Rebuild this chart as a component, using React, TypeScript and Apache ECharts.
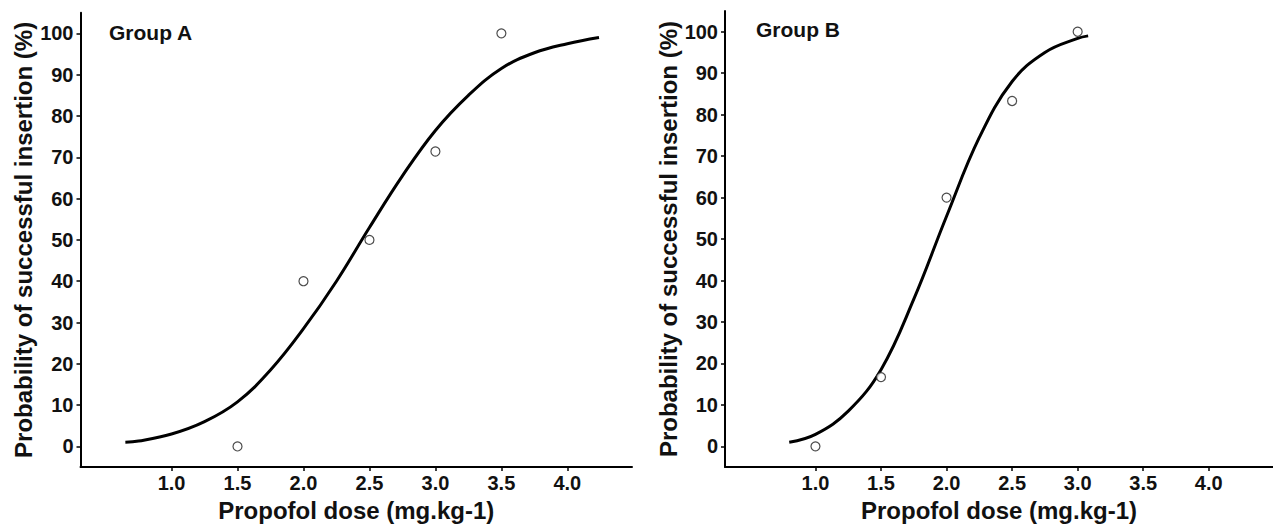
import React, { useEffect, useRef } from "react";
import * as echarts from "echarts";

const xTicks = [1.0, 1.5, 2.0, 2.5, 3.0, 3.5, 4.0];
const yTicks = [0, 10, 20, 30, 40, 50, 60, 70, 80, 90, 100];

const groupADose = [1.5, 2.0, 2.5, 3.0, 3.5];
const groupAObserved = [0, 40, 50, 71.4, 100];
const groupBDose = [1.0, 1.5, 2.0, 2.5, 3.0];
const groupBObserved = [0, 16.7, 60, 83.3, 100];

const groupACurveDose = [0.65, 0.75, 1.0, 1.25, 1.5, 1.75, 2.0, 2.25, 2.5, 2.75, 3.0, 3.25, 3.5, 3.75, 4.0, 4.24];
const groupACurveProb = [1.0, 1.3, 3.0, 6.0, 10.8, 18.5, 28.5, 40.0, 53.0, 65.5, 76.5, 85.0, 91.5, 95.3, 97.5, 99.0];
const groupBCurveDose = [0.8, 1.0, 1.25, 1.5, 1.75, 2.0, 2.25, 2.5, 2.75, 3.0, 3.08];
const groupBCurveProb = [1.0, 2.9, 8.5, 18.5, 35.5, 55.5, 74.5, 88.0, 95.0, 98.4, 99.0];

const panelLabels = ["Group A", "Group B"];
const xTitle = "Propofol dose (mg.kg-1)";
const yTitle = "Probability of successful insertion (%)";

const FONT = "'Liberation Sans', Arial, sans-serif";
const INK = "#111";

function pairs(xs: number[], ys: number[]) {
  return xs.map((x, i) => [x, ys[i]]);
}

function xAxisDef(gridIndex: number) {
  return {
    type: "value",
    gridIndex,
    min: 0.31,
    max: 4.49,
    name: xTitle,
    nameLocation: "middle",
    nameGap: 21,
    nameTextStyle: { fontFamily: FONT, fontWeight: "bold", fontSize: 24, color: INK },
    splitLine: { show: false },
    axisLine: { show: true, onZero: false, lineStyle: { color: "#000", width: 2 } },
    axisTick: { show: true, length: 4, customValues: xTicks, lineStyle: { color: "#000", width: 1.5 } },
    axisLabel: {
      customValues: xTicks,
      formatter: (v: number) => v.toFixed(1),
      fontFamily: FONT,
      fontWeight: "bold",
      fontSize: 20,
      color: INK,
      margin: 6,
    },
  };
}

function yAxisDef(gridIndex: number) {
  return {
    type: "value",
    gridIndex,
    min: -5,
    max: 105,
    name: yTitle,
    nameLocation: "middle",
    nameGap: 45,
    nameTextStyle: { fontFamily: FONT, fontWeight: "bold", fontSize: 24, color: INK },
    splitLine: { show: false },
    axisLine: { show: true, onZero: false, lineStyle: { color: "#000", width: 2 } },
    axisTick: { show: true, length: 4, customValues: yTicks, lineStyle: { color: "#000", width: 1.5 } },
    axisLabel: {
      customValues: yTicks,
      fontFamily: FONT,
      fontWeight: "bold",
      fontSize: 20,
      color: INK,
      margin: 7,
    },
  };
}

function curveSeries(idx: number, data: number[][]) {
  return {
    type: "line",
    xAxisIndex: idx,
    yAxisIndex: idx,
    data,
    smooth: 0.4,
    showSymbol: false,
    symbol: "none",
    lineStyle: { color: "#000", width: 3 },
    z: 2,
  };
}

function pointSeries(idx: number, data: number[][]) {
  return {
    type: "scatter",
    xAxisIndex: idx,
    yAxisIndex: idx,
    data,
    symbol: "circle",
    symbolSize: 9,
    itemStyle: { color: "#fff", borderColor: "#222", borderWidth: 1.2 },
    z: 3,
  };
}

export default function App() {
  const ref = useRef<HTMLDivElement>(null);
  useEffect(() => {
    document.body.style.margin = "0";
    if (!ref.current) return;
    const chart = echarts.init(ref.current, undefined, { renderer: "svg" });
    const labelStyle = { fontFamily: FONT, fontWeight: "bold", fontSize: 21, color: INK };
    chart.setOption({
      animation: false,
      backgroundColor: "#fff",
      title: [
        { text: panelLabels[0], left: 109, top: 22, padding: 0, textStyle: labelStyle },
        { text: panelLabels[1], left: 756, top: 19, padding: 0, textStyle: labelStyle },
      ],
      grid: [
        { left: 80.5, top: 12.7, width: 551.5, height: 459 },
        { left: 725, top: 11, width: 550, height: 458 },
      ],
      xAxis: [xAxisDef(0), xAxisDef(1)],
      yAxis: [yAxisDef(0), yAxisDef(1)],
      series: [
        curveSeries(0, pairs(groupACurveDose, groupACurveProb)),
        pointSeries(0, pairs(groupADose, groupAObserved)),
        curveSeries(1, pairs(groupBCurveDose, groupBCurveProb)),
        pointSeries(1, pairs(groupBDose, groupBObserved)),
      ],
    });
    return () => chart.dispose();
  }, []);
  return <div ref={ref} style={{ width: 1273, height: 527 }} />;
}
